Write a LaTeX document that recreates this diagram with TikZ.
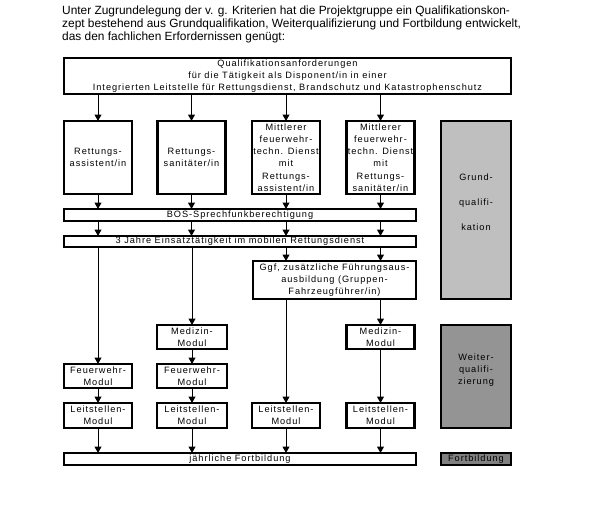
\documentclass[tikz,border=0pt]{standalone}
\usepackage{fontspec}
\setmainfont{Liberation Sans}
\newfontfamily\boxff[LetterSpace=10.5]{Liberation Sans}
\usetikzlibrary{arrows.meta}
\newcommand\bfnt{\boxff\fontsize{9.2}{12.3}\selectfont}
\newcommand\hfnt{\fontsize{11.9}{13.2}\selectfont}
\tikzset{
  box/.style={draw, line width=2.6pt, fill=white, inner sep=0pt, outer sep=0pt, align=center, font=\bfnt},
  lbl/.style={inner sep=0pt, align=center, font=\bfnt},
  arr/.style={-{Triangle[width=7pt,length=6.5pt]}, line width=1pt},
}
\begin{document}
\begin{tikzpicture}[x=1pt,y=-1pt]
\useasboundingbox (0,0) rectangle (589,509);
\node[anchor=north west, inner sep=0pt, align=left, font=\hfnt] (hdr) at (62,5.5)
 {Unter Zugrundelegung der v. g. Kriterien hat die Projektgruppe ein Qualifikationskon-\\
  zept bestehend aus Grundqualifikation, Weiterqualifizierung und Fortbildung entwickelt,\\
  das den fachlichen Erfordernissen genügt:};
% top box
\node[box, minimum width=447pt, minimum height=36pt] (top) at (287.5,76)
 {Qualifikationsanforderungen\\für die Tätigkeit als Disponent/in in einer\\Integrierten Leitstelle für Rettungsdienst, Brandschutz und Katastrophenschutz};
% four boxes
\node[box, minimum width=68pt, minimum height=73pt] (b1) at (98,157.5) {Rettungs-\\assistent/in};
\node[box, minimum width=68pt, minimum height=73pt] (b2) at (191.5,157.5) {Rettungs-\\sanitäter/in};
\node[box, minimum width=68pt, minimum height=73pt] (b3) at (286,157.5) {Mittlerer\\feuerwehr-\\techn. Dienst\\mit\\Rettungs-\\assistent/in};
\node[box, minimum width=68pt, minimum height=73pt] (b4) at (380.5,157.5) {Mittlerer\\feuerwehr-\\techn. Dienst\\mit\\Rettungs-\\sanitäter/in};
% bars
\node[box, minimum width=352pt, minimum height=12pt] (bos) at (240,215) {BOS-Sprechfunkberechtigung};
\node[box, minimum width=352pt, minimum height=11pt] (jahre) at (240,241.5) {3 Jahre Einsatztätigkeit im mobilen Rettungsdienst};
\node[box, minimum width=163pt, minimum height=38pt] (ggf) at (334.5,280) {Ggf, zusätzliche Führungsaus-\\ausbildung (Gruppen-\\Fahrzeugführer/in)};
% modules
\node[box, minimum width=70pt, minimum height=24pt] (m2) at (192,337) {Medizin-\\Modul};
\node[box, minimum width=68pt, minimum height=24pt] (m4) at (380.5,337) {Medizin-\\Modul};
\node[box, minimum width=68pt, minimum height=24pt] (f1) at (98,376) {Feuerwehr-\\Modul};
\node[box, minimum width=70pt, minimum height=24pt] (f2) at (192,376) {Feuerwehr-\\Modul};
\node[box, minimum width=68pt, minimum height=25pt] (l1) at (98,415.5) {Leitstellen-\\Modul};
\node[box, minimum width=70pt, minimum height=25pt] (l2) at (192,415.5) {Leitstellen-\\Modul};
\node[box, minimum width=68pt, minimum height=25pt] (l3) at (286,415.5) {Leitstellen-\\Modul};
\node[box, minimum width=68pt, minimum height=25pt] (l4) at (380.5,415.5) {Leitstellen-\\Modul};
\node[box, minimum width=352pt, minimum height=12pt] (fort) at (240,459) {jährliche Fortbildung};
% side boxes
\node[box, fill=black!25, minimum width=70pt, minimum height=178pt] (grund) at (476,210) {};
\node[lbl, font=\boxff\fontsize{9.2}{25}\selectfont] (grundt) at (476,202) {Grund-\\qualifi-\\kation};
\node[box, fill=black!42, minimum width=70pt, minimum height=103pt] (weiter) at (476,376.5) {};
\node[lbl] (weitert) at (476,370) {Weiter-\\qualifi-\\zierung};
\node[box, fill=black!50, minimum width=70pt, minimum height=12pt] (fbox) at (476,459) {Fortbildung};
% arrows
\foreach \b in {b1,b2,b3,b4}{
  \draw[arr] (top.south -| \b) -- (\b.north);
  \draw[arr] (\b.south) -- (bos.north -| \b);
  \draw[arr] (bos.south -| \b) -- (jahre.north -| \b);
}
\draw[arr] (jahre.south -| b3) -- (ggf.north -| b3);
\draw[arr] (jahre.south -| b4) -- (ggf.north -| b4);
\draw[arr] (jahre.south -| f1) -- (f1.north);
\draw[arr] (jahre.south -| m2) -- (m2.north);
\draw[arr] (m2.south) -- (f2.north);
\draw[arr] (f1.south) -- (l1.north);
\draw[arr] (f2.south) -- (l2.north);
\draw[arr] (ggf.south -| l3) -- (l3.north);
\draw[arr] (ggf.south -| m4) -- (m4.north);
\draw[arr] (m4.south) -- (l4.north);
\foreach \l in {l1,l2,l3,l4}{
  \draw[arr] (\l.south) -- (fort.north -| \l);
}
\end{tikzpicture}
\end{document}
